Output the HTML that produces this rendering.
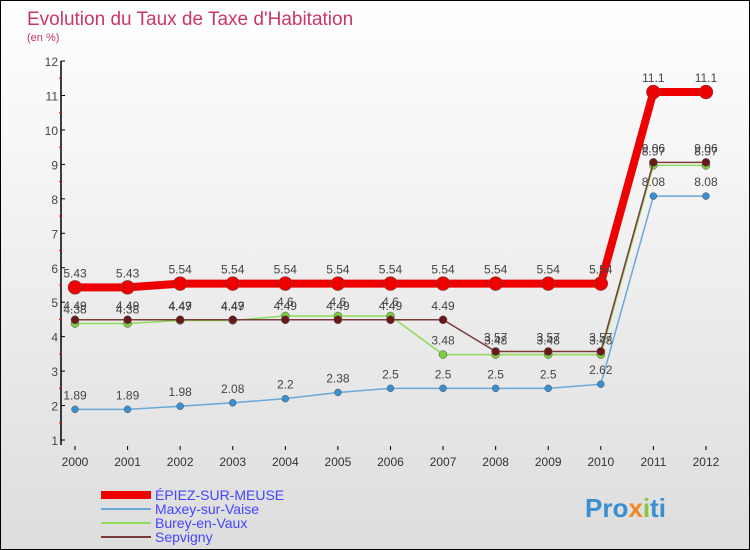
<!DOCTYPE html>
<html><head><meta charset="utf-8"><style>
body{margin:0}
#c{width:748px;height:548px;border:1px solid #000;position:relative;background:linear-gradient(#fff,#ddd);font-family:"Liberation Sans",sans-serif;overflow:hidden}
</style></head><body>
<div id="c">
<svg id="s" width="748" height="548" xmlns="http://www.w3.org/2000/svg">
<text x="26" y="24" font-size="19" fill="#c8366a">Evolution du Taux de Taxe d'Habitation</text>
<text x="26" y="40" font-size="11" fill="#c8366a">(en %)</text>
<g id="axes"></g><g id="series"></g>
<g id="legend">
<line x1="100" y1="494" x2="150" y2="494" stroke="#e00" stroke-width="8"/>
<text x="154" y="499" font-size="14" fill="#44f">ÉPIEZ-SUR-MEUSE</text>
<line x1="100" y1="508" x2="150" y2="508" stroke="#6aa8d8" stroke-width="2"/>
<text x="154" y="513" font-size="14" fill="#44f">Maxey-sur-Vaise</text>
<line x1="100" y1="522" x2="150" y2="522" stroke="#8edc5a" stroke-width="2"/>
<text x="154" y="527" font-size="14" fill="#44f">Burey-en-Vaux</text>
<line x1="100" y1="536" x2="150" y2="536" stroke="#7a3a3a" stroke-width="2"/>
<text x="154" y="541" font-size="14" fill="#44f">Sepvigny</text>
</g>
<text x="584" y="516" font-size="26" font-weight="bold" fill="#3a8fd0">Pro<tspan fill="#f08a20">x</tspan><tspan fill="#8cc63f">i</tspan><tspan fill="#3a8fd0">ti</tspan></text>
</svg></div>
<script>
const years=[2000,2001,2002,2003,2004,2005,2006,2007,2008,2009,2010,2011,2012];
const epiez=[5.43,5.43,5.54,5.54,5.54,5.54,5.54,5.54,5.54,5.54,5.54,11.1,11.1];
const maxey=[1.89,1.89,1.98,2.08,2.2,2.38,2.5,2.5,2.5,2.5,2.62,8.08,8.08];
const burey=[4.38,4.38,4.47,4.47,4.6,4.6,4.6,3.48,3.48,3.48,3.48,8.97,8.97];
const sepvigny=[4.49,4.49,4.49,4.49,4.49,4.49,4.49,4.49,3.57,3.57,3.57,9.06,9.06];
const yTicks=[1,2,3,4,5,6,7,8,9,10,11,12];
const NS="http://www.w3.org/2000/svg";
function X(i){return 74+i*52.58;}
function Y(v){return 439-(v-1)*34.45;}
function mk(t,a,p){const e=document.createElementNS(NS,t);for(const k in a)e.setAttribute(k,a[k]);p.appendChild(e);return e;}
const ax=document.getElementById('axes');
const yl=mk('line',{x1:60,y1:Y(12),x2:60,y2:Y(1)+5,stroke:'#000','stroke-width':1.5},ax);


yTicks.forEach(v=>{
 mk('line',{x1:60,y1:Y(v),x2:64,y2:Y(v),stroke:'#000'},ax);
 if(v<12)mk('line',{x1:58,y1:Y(v+0.5),x2:61,y2:Y(v+0.5),stroke:'#f00'},ax);
 const t=mk('text',{x:57,y:Y(v)+5,'font-size':12,fill:'#444','text-anchor':'end'},ax);t.textContent=v;
 
 
});
years.forEach((y,i)=>{
 mk('line',{x1:X(i),y1:Y(1)+6,x2:X(i),y2:Y(1)+10,stroke:'#000'},ax);
 const t=mk('text',{x:X(i),y:465,'font-size':12,fill:'#333','text-anchor':'middle'},ax);t.textContent=y;
 
 
});
const sg=document.getElementById('series');
function draw(data,color,w,r,fill,name){
 const g=mk('g',{},sg);
 
 
 mk('polyline',{points:data.map((v,i)=>X(i)+','+Y(v)).join(' '),fill:'none',stroke:color,'stroke-width':w},g);
 data.forEach((v,i)=>{
  const c=mk('circle',{cx:X(i),cy:Y(v),r:r,fill:fill,stroke:'#555','stroke-width':0.5},g);
  
  
  const t=mk('text',{x:X(i),y:Y(v)-10,'font-size':12,fill:'#444','text-anchor':'middle'},g);
  t.textContent=v;
  
  
 });
}
draw(maxey,'#6aa8d8',1.5,3.5,'#3a8fd0','maxey-series');
draw(burey,'#8edc5a',1.5,4,'#7ccc40','burey-series');
draw(sepvigny,'#7a3a3a',1.5,4,'#6a1818','sepvigny-series');
draw(epiez,'#ee0000',8,7,'#ee0000','epiez-series');
</script>
</body></html>
